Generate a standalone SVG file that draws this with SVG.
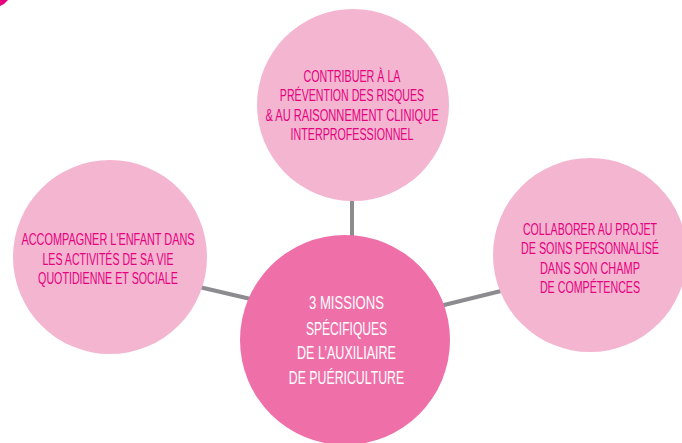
<svg xmlns="http://www.w3.org/2000/svg" width="682" height="443" viewBox="0 0 682 443">
<style>
.c{fill:#f4b5d1}
.m{fill:#ef70a9}
.t{font-family:"Liberation Sans","DejaVu Sans",sans-serif;font-size:16.5px;fill:#e6007e;text-anchor:middle}
.w{font-family:"Liberation Sans","DejaVu Sans",sans-serif;font-size:19px;fill:#ffffff;text-anchor:middle}
.l{stroke:#8c8c90;stroke-width:4;fill:none}
</style>
<rect width="682" height="443" fill="#ffffff"/>
<path d="M0,0 L8,0 Q5,4 0,6 Z" fill="#e6007e"/>
<g id="connectors">
<line class="l" x1="352" y1="195" x2="352" y2="245"/>
<line class="l" x1="195" y1="286" x2="255" y2="300"/>
<line class="l" x1="440" y1="306" x2="505" y2="290"/>
</g>
<g id="top">
<circle class="c" cx="353" cy="105" r="96"/>
<g transform="translate(352,0) scale(0.63,1)">
<text class="t" x="0" y="82" textLength="154" lengthAdjust="spacingAndGlyphs">CONTRIBUER À LA</text>
<text class="t" x="0" y="101" textLength="229" lengthAdjust="spacingAndGlyphs">PRÉVENTION DES RISQUES</text>
<text class="t" x="0" y="121" textLength="275" lengthAdjust="spacingAndGlyphs">&amp; AU RAISONNEMENT CLINIQUE</text>
<text class="t" x="0" y="140" textLength="195" lengthAdjust="spacingAndGlyphs">INTERPROFESSIONNEL</text>
</g>
</g>
<g id="left">
<circle class="c" cx="110" cy="257" r="97"/>
<g transform="translate(108,0) scale(0.63,1)">
<text class="t" x="0" y="245" textLength="275" lengthAdjust="spacingAndGlyphs">ACCOMPAGNER L'ENFANT DANS</text>
<text class="t" x="0" y="265" textLength="208" lengthAdjust="spacingAndGlyphs">LES ACTIVITÉS DE SA VIE</text>
<text class="t" x="0" y="284" textLength="222" lengthAdjust="spacingAndGlyphs">QUOTIDIENNE ET SOCIALE</text>
</g>
</g>
<g id="right">
<circle class="c" cx="590" cy="255" r="97"/>
<g transform="translate(590,0) scale(0.63,1)">
<text class="t" x="0" y="235" textLength="213" lengthAdjust="spacingAndGlyphs">COLLABORER AU PROJET</text>
<text class="t" x="0" y="254" textLength="219" lengthAdjust="spacingAndGlyphs">DE SOINS PERSONNALISÉ</text>
<text class="t" x="0" y="274" textLength="159" lengthAdjust="spacingAndGlyphs">DANS SON CHAMP</text>
<text class="t" x="0" y="293" textLength="159" lengthAdjust="spacingAndGlyphs">DE COMPÉTENCES</text>
</g>
</g>
<g id="center">
<circle class="m" cx="345" cy="340" r="105"/>
<g transform="translate(346.5,0) scale(0.63,1)">
<text class="w" x="0" y="309" textLength="119" lengthAdjust="spacingAndGlyphs">3 MISSIONS</text>
<text class="w" x="0" y="335" textLength="129" lengthAdjust="spacingAndGlyphs">SPÉCIFIQUES</text>
<text class="w" x="0" y="359" textLength="157" lengthAdjust="spacingAndGlyphs">DE L’AUXILIAIRE</text>
<text class="w" x="0" y="384" textLength="183" lengthAdjust="spacingAndGlyphs">DE PUÉRICULTURE</text>
</g>
</g>
</svg>
